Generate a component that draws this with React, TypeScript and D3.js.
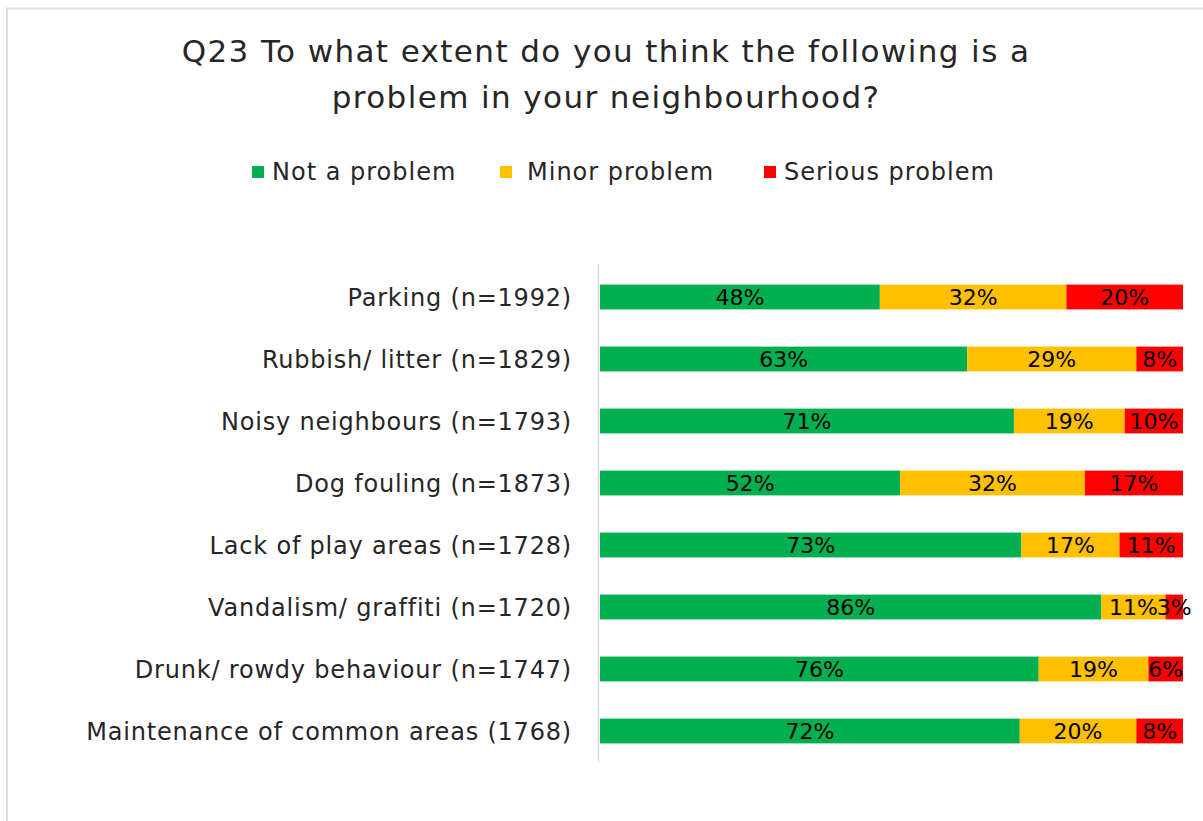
import React from "react";
import * as d3 from "d3";

const categories = [
  "Parking (n=1992)",
  "Rubbish/ litter (n=1829)",
  "Noisy neighbours (n=1793)",
  "Dog fouling (n=1873)",
  "Lack of play areas (n=1728)",
  "Vandalism/ graffiti (n=1720)",
  "Drunk/ rowdy behaviour (n=1747)",
  "Maintenance of common areas (1768)",
];
const seriesNames = ["Not a problem", "Minor problem", "Serious problem"];
const notAProblem = [48, 63, 71, 52, 73, 86, 76, 72];
const minorProblem = [32, 29, 19, 32, 17, 11, 19, 20];
const seriousProblem = [20, 8, 10, 17, 11, 3, 6, 8];
const colors = ["#00B050", "#FFC000", "#FF0000"];

const FONT = "'DejaVu Sans', sans-serif";

export default function App() {
  const W = 1203, H = 821;
  const x = d3.scaleLinear().domain([0, 1]).range([600, 1183]);
  const y = d3.scaleBand().domain(categories).range([266, 762]).paddingInner(0.6).paddingOuter(0.3);
  const rows = categories.map((c, i) => ({
    cat: c,
    vals: [notAProblem[i], minorProblem[i], seriousProblem[i]],
  }));
  const stack = d3
    .stack<any>()
    .keys(["0", "1", "2"])
    .value((d: any, k: string) => d.vals[+k])
    .offset(d3.stackOffsetExpand);
  const stacked = stack(rows);
  const legendItems = [
    { sx: 252, tx: 272 },
    { sx: 500, tx: 527 },
    { sx: 764, tx: 784 },
  ];
  return (
    <svg width={W} height={H} style={{ position: "absolute", left: 0, top: 0, background: "#fff" }}>
      <rect x={7} y={8.5} width={W + 20} height={H + 20} fill="#fff" stroke="#e0e0e0" strokeWidth={2} />
      <text x={606} y={62} textAnchor="middle" fontFamily={FONT} fontSize={31} letterSpacing={1.4} fill="#262626">
        Q23 To what extent do you think the following is a
      </text>
      <text x={606} y={108} textAnchor="middle" fontFamily={FONT} fontSize={31} letterSpacing={1.4} fill="#262626">
        problem in your neighbourhood?
      </text>
      {seriesNames.map((s, i) => (
        <g key={s}>
          <rect x={legendItems[i].sx} y={166} width={12} height={12} fill={colors[i]} />
          <text x={legendItems[i].tx} y={180} fontFamily={FONT} fontSize={24} letterSpacing={1} fill="#262626">{s}</text>
        </g>
      ))}
      <line x1={598.5} x2={598.5} y1={264} y2={762} stroke="#d9d9d9" strokeWidth={1.5} />
      {categories.map((c) => (
        <text key={c} x={572} y={y(c)! + y.bandwidth() / 2} dy="0.36em" textAnchor="end" fontFamily={FONT} fontSize={24} letterSpacing={0.8} fill="#262626">
          {c}
        </text>
      ))}
      {stacked.map((layer, li) => (
        <g key={li}>
          {layer.map((d: any, i) => (
            <rect key={i} x={x(d[0])} y={y(categories[i])} width={x(d[1]) - x(d[0])} height={y.bandwidth()} fill={colors[li]} />
          ))}
          {layer.map((d: any, i) => (
            <text key={"t" + i} x={(x(d[0]) + x(d[1])) / 2} y={y(categories[i])! + y.bandwidth() / 2} dy="0.36em" textAnchor="middle" fontFamily={FONT} fontSize={22} fill="#000">
              {rows[i].vals[li]}%
            </text>
          ))}
        </g>
      ))}
    </svg>
  );
}
